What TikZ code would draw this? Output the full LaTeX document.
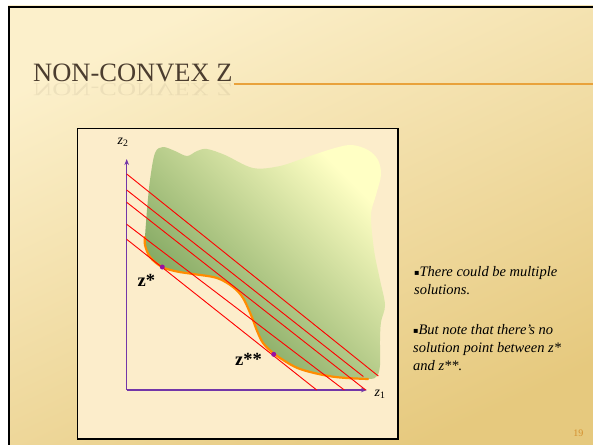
\documentclass[tikz,border=0pt]{standalone}
\usepackage{fontspec}
\setmainfont{Liberation Serif}
\newfontfamily\symfont{DejaVu Sans}
\usetikzlibrary{arrows.meta}

\definecolor{slidecream}{HTML}{FCF0CB}
\definecolor{slidegold}{HTML}{E6C97E}
\definecolor{boxcream}{HTML}{FCEDCB}
\definecolor{titlebrown}{HTML}{4B3D2F}
\definecolor{rulegold}{HTML}{E9A23B}
\definecolor{axispurple}{HTML}{7336A8}
\definecolor{edgeorange}{HTML}{FF8C00}
\definecolor{dotpurple}{HTML}{9A0FA0}
\definecolor{darkgreen}{HTML}{6C9850}
\definecolor{paleyellow}{HTML}{FFFFC4}
\definecolor{pagegold}{HTML}{D4902E}

\newcommand{\bull}{{\symfont\fontsize{8}{8}\selectfont\raisebox{1pt}{▪}}}

\tikzset{
	level line/.style={red, line width=.9pt},
	axis line/.style={axispurple, line width=1.2pt, -{Stealth[length=6pt,width=4.5pt]}},
	pt dot/.style={circle, fill=dotpurple, inner sep=0pt, minimum size=5pt},
	body text/.style={anchor=base west, inner sep=0pt, font=\itshape\fontsize{14.5}{18}\selectfont},
	axis label/.style={inner sep=0pt, font=\fontsize{14}{14}\selectfont},
	pt label/.style={anchor=base west, inner sep=0pt, font=\bfseries\fontsize{18.5}{18.5}\selectfont}
}

\begin{document}
\begin{tikzpicture}[x=1pt, y=-1pt]
	\useasboundingbox (0,0) rectangle (593,444);
	% slide
	\fill[white] (0,0) rectangle (593,444);
	\shade[top color=slidecream, bottom color=slidegold, shading angle=25] (8,6) rectangle (600,450);
	\draw[black, line width=2pt] (600,7) -- (9,7) -- (9,450);

	% title
	\node[anchor=base west, inner sep=0pt, text=titlebrown, font=\fontsize{26.5}{26.5}\selectfont] (title) at (33,81) {NON-CONVEX Z};
	\node[anchor=base west, inner sep=0pt, text=titlebrown, opacity=.08, yscale=-.7, font=\fontsize{26.5}{26.5}\selectfont] (mirror) at (33,83) {NON-CONVEX Z};
	\coordinate (rulestart) at ([xshift=1pt, yshift=-3pt]title.base east);
	\draw[rulegold, line width=1.5pt] (rulestart) -- ++(370,0);

	% figure box
	\filldraw[fill=boxcream, draw=black, line width=1.4pt] (77.5,128.5) rectangle (398,439);

	% the region Z
	\shade[top color=darkgreen, bottom color=paleyellow, shading angle=135]
		plot[smooth cycle, tension=.55] coordinates {
			(155,153) (163,147) (175,151) (187,156) (197,151) (207,149) (225,155)
			(253,168) (280,166) (307,157) (335,148) (352,145) (368,150) (378,160)
			(381,175) (376,195) (371,215) (374,250) (380,280) (385,305) (381,322)
			(380,340) (380,365) (377,376) (368,379) (333,376.7) (300,369) (280,358)
			(273,353) (263,343) (256.7,330) (251.7,316.7) (243,298) (233,287)
			(217,278) (193,274) (177,271.5) (162,267) (150,257) (145,245) (145,237)
			(147,210) (150,180)};
	\draw[edgeorange, line width=2.2pt, line cap=round]
		plot[smooth, tension=.55] coordinates {
			(368,379) (333,376.7) (300,369) (280,358)
			(273,353) (263,343) (256.7,330) (251.7,316.7) (243,298) (233,287)
			(217,278) (193,274) (177,271.5) (162,267) (150,257) (145,245) (145,237)};

	% axes
	\coordinate (o) at (126.7,390);
	\coordinate (xend) at (367,390);
	\coordinate (yend) at (126.7,159);
	\draw[axis line] (o) -- (xend);
	\draw[axis line] (o) -- (yend);
	\node[axis label] (zlab1) at (380,394) {\textit{z}\textsubscript{1}};
	\node[axis label] (zlab2) at (123,142) {\textit{z}\textsubscript{2}};

	% level lines
	\coordinate (a1) at (126.7,174);   \coordinate (b1) at (378.3,376);
	\coordinate (a2) at (126.7,190);   \coordinate (b2) at (363.3,376.5);
	\coordinate (a3) at (126.7,202.3); \coordinate (b3) at (365.7,390);
	\coordinate (a4) at (126.7,224.3); \coordinate (b4) at (344.3,390);
	\coordinate (a5) at (126.7,239.3); \coordinate (b5) at (316.7,390);
	\foreach \i in {1,...,5}
		\draw[level line] (a\i) -- (b\i);

	% solutions
	\node[pt dot] (zs) at (162.3,267) {};
	\node[pt dot] (zss) at (273.7,354.3) {};
	\node[pt label] (zslab) at (137.5,286.7) {z*};
	\node[pt label] (zsslab) at (235,365.5) {z**};

	% notes
	\node[body text] (note1a) at (414,276.5) {\bull There could be multiple};
	\node[body text] (note1b) at (414,294) {solutions.};
	\node[body text] (note2a) at (413,334.5) {\bull But note that there's no};
	\node[body text] (note2b) at (413,352.5) {solution point between z*};
	\node[body text] (note2c) at (413,370.5) {and z**.};

	\node[inner sep=0pt, text=pagegold, font=\fontsize{10}{10}\selectfont] (pagenum) at (578.3,433.3) {19};
\end{tikzpicture}
\end{document}
